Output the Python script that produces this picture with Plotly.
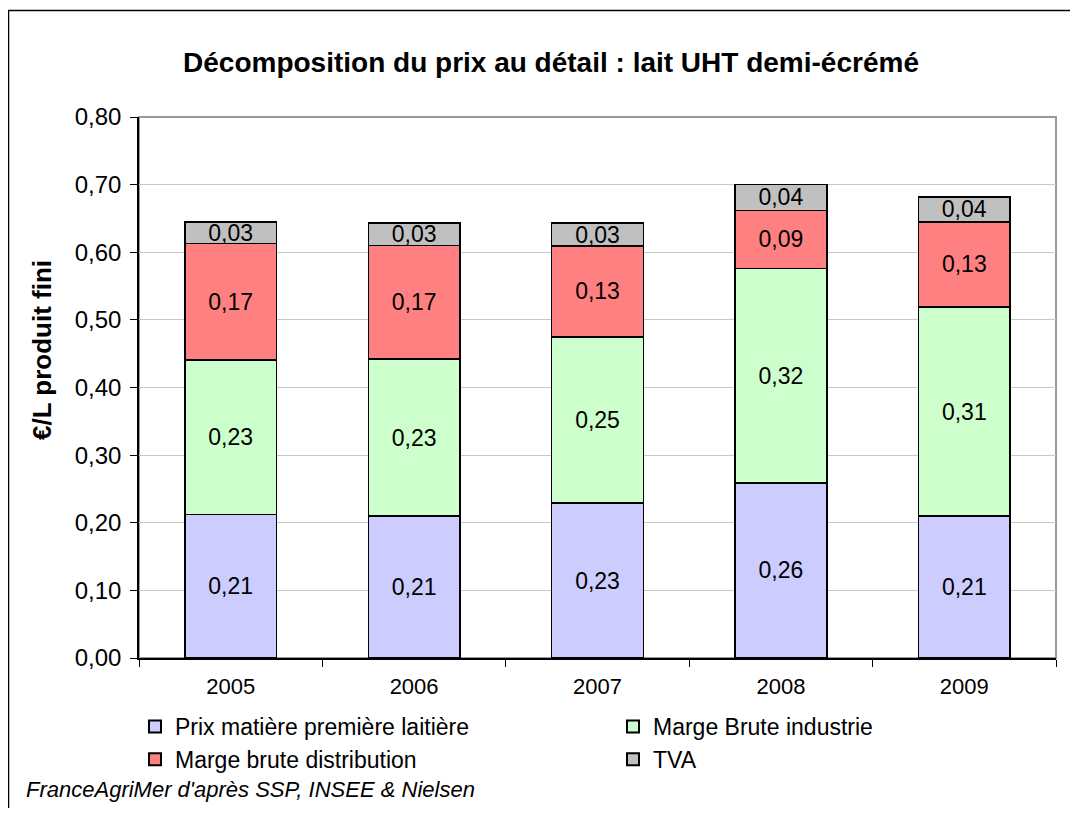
import plotly.graph_objects as go

years = ["2005", "2006", "2007", "2008", "2009"]
prix_matiere = [0.212, 0.210, 0.229, 0.259, 0.210]
marge_industrie = [0.229, 0.232, 0.246, 0.317, 0.309]
marge_distribution = [0.172, 0.168, 0.134, 0.086, 0.126]
tva = [0.032, 0.033, 0.034, 0.038, 0.037]

series_names = ["Prix matière première laitière", "Marge Brute industrie",
                "Marge brute distribution", "TVA"]
series_values = [prix_matiere, marge_industrie, marge_distribution, tva]
series_colors = ["#CCCCFF", "#CCFFCC", "#FF8080", "#C0C0C0"]
series_legends = ["legend", "legend2", "legend", "legend2"]

OFF = 8  # page body margin
W, H = 1078 - 2 * OFF, 816 - 2 * OFF
# plot area in page pixels
PL, PR, PT, PB = 139, 1056, 117, 658
L, R, T, B = PL - OFF, PR - OFF, PT - OFF, PB - OFF

FONT = "Liberation Sans, Arial, sans-serif"

fig = go.Figure()
for name, vals, col, lg in zip(series_names, series_values, series_colors, series_legends):
    fig.add_trace(go.Bar(
        x=years, y=vals, name=name, legend=lg,
        marker=dict(color=col, line=dict(color="black", width=1.5)),
        texttemplate="%{y:.2f}", textposition="inside",
        insidetextanchor="middle", constraintext="none",
        textfont=dict(family=FONT, size=23, color="black"),
        hoverinfo="skip",
    ))

def px_x(px):
    return (px - PL) / (PR - PL)

def px_y(py):
    return (PB - py) / (PB - PT)

legend_common = dict(orientation="v", xanchor="left", yanchor="top",
                     font=dict(family=FONT, size=23, color="black"),
                     traceorder="normal", bgcolor="rgba(0,0,0,0)",
                     tracegroupgap=0, itemsizing="constant")

fig.update_layout(
    width=W, height=H,
    margin=dict(l=L, r=W - R, t=T, b=H - B),
    barmode="stack", bargap=0.5,
    separators=", ",
    paper_bgcolor="white", plot_bgcolor="white",
    font=dict(family=FONT, size=22, color="black"),
    uniformtext=dict(minsize=23, mode="show"),
    title=dict(text="<b>Décomposition du prix au détail : lait UHT demi-écrémé</b>",
               x=(551 - OFF) / W, xanchor="center", y=1 - (62 - OFF) / H, yanchor="middle",
               font=dict(size=28, color="black")),
    xaxis=dict(
        type="category", showline=True, linecolor="black", linewidth=1.5,
        ticks="outside", ticklen=7, tickcolor="black", tickson="boundaries",
        tickfont=dict(size=22), showgrid=False, ticklabelstandoff=8,
    ),
    yaxis=dict(
        range=[0, 0.8], dtick=0.1, tickformat=".2f",
        showline=True, linecolor="black", linewidth=1.5,
        ticks="outside", ticklen=7, tickcolor="black",
        showgrid=True, gridcolor="#C8C8C8", gridwidth=1,
        tickfont=dict(size=24), zeroline=False, ticklabelstandoff=4,
    ),
    legend=dict(x=px_x(135), y=px_y(705), **legend_common),
    legend2=dict(x=px_x(613), y=px_y(705), **legend_common),
    showlegend=True,
)

shapes = [
    dict(type="rect", xref="paper", yref="paper", x0=0, x1=1, y0=0, y1=1,
         line=dict(color="#999999", width=2), layer="below"),
    dict(type="line", xref="paper", yref="paper", x0=px_x(8.5), x1=px_x(8.5),
         y0=px_y(830), y1=px_y(10), line=dict(color="black", width=1.5)),
    dict(type="line", xref="paper", yref="paper", x0=px_x(8), x1=px_x(1090),
         y0=px_y(10.5), y1=px_y(10.5), line=dict(color="black", width=1.5)),
]
fig.update_layout(shapes=shapes)

fig.add_annotation(text="<b>€/L produit fini</b>", xref="paper", yref="paper",
                   x=px_x(42), y=px_y(350), textangle=-90, showarrow=False,
                   xanchor="center", yanchor="middle", font=dict(size=26))
fig.add_annotation(text="<i>FranceAgriMer d'après SSP, INSEE & Nielsen</i>",
                   xref="paper", yref="paper", x=px_x(24), y=px_y(789),
                   xanchor="left", yanchor="middle", showarrow=False,
                   font=dict(size=22))

fig.write_html("out.html")
